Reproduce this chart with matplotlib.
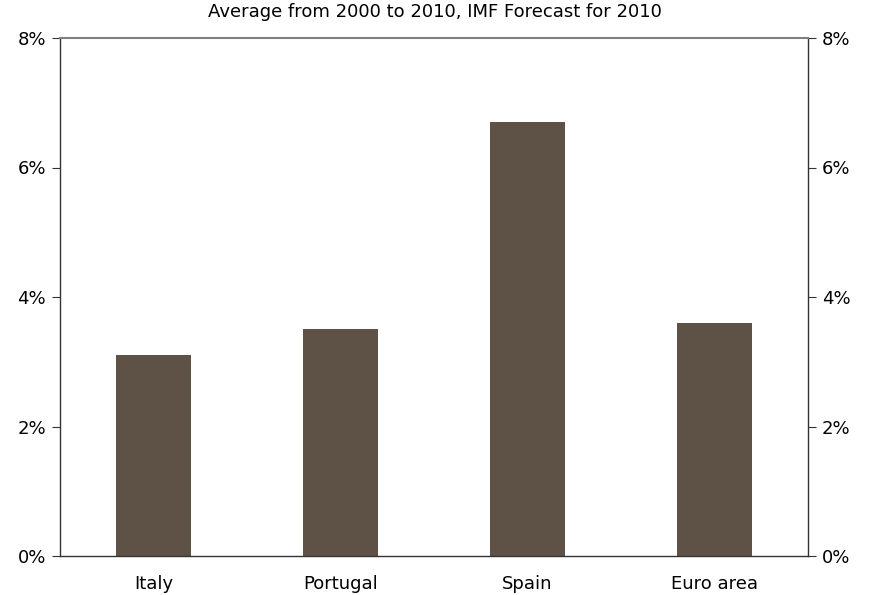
import matplotlib
matplotlib.use("Agg")
import matplotlib.pyplot as plt
from matplotlib.ticker import FuncFormatter

categories = ["Italy", "Portugal", "Spain", "Euro area"]
values = [3.1, 3.5, 6.7, 3.6]
yticks = [0, 2, 4, 6, 8]

plt.rcParams['font.family'] = ['DejaVu Sans']
fig = plt.figure(figsize=(8.69, 5.95), dpi=100)
ax = fig.add_axes([60/869, 1-556/595, 748/869, (556-38)/595])

x = list(range(len(categories)))
ax.bar(x, values, width=0.4, color="#5e5246")
ax.set_xlim(-0.5, 3.5)
ax.set_ylim(0, 8)
ax.set_xticks(x)
ax.set_xticklabels(categories, fontsize=13)
ax.set_yticks(yticks)
ax.yaxis.set_major_formatter(FuncFormatter(lambda v, p: f"{v:.0f}%"))
ax.tick_params(axis='y', which='both', left=True, right=True, labelleft=True,
               labelright=True, direction='out', length=6, labelsize=13,
               color="#333333", pad=4)
ax.tick_params(axis='x', length=0, pad=14)
for s in ['left', 'right', 'bottom']:
    ax.spines[s].set_color('#333333')
    ax.spines[s].set_linewidth(1.0)
ax.spines['top'].set_color('#808080')
ax.spines['top'].set_linewidth(1.5)

fig.text(0.5, 1-12/595, "Average from 2000 to 2010, IMF Forecast for 2010",
         ha='center', va='center', fontsize=13)

fig.savefig("out.png", dpi=100)
